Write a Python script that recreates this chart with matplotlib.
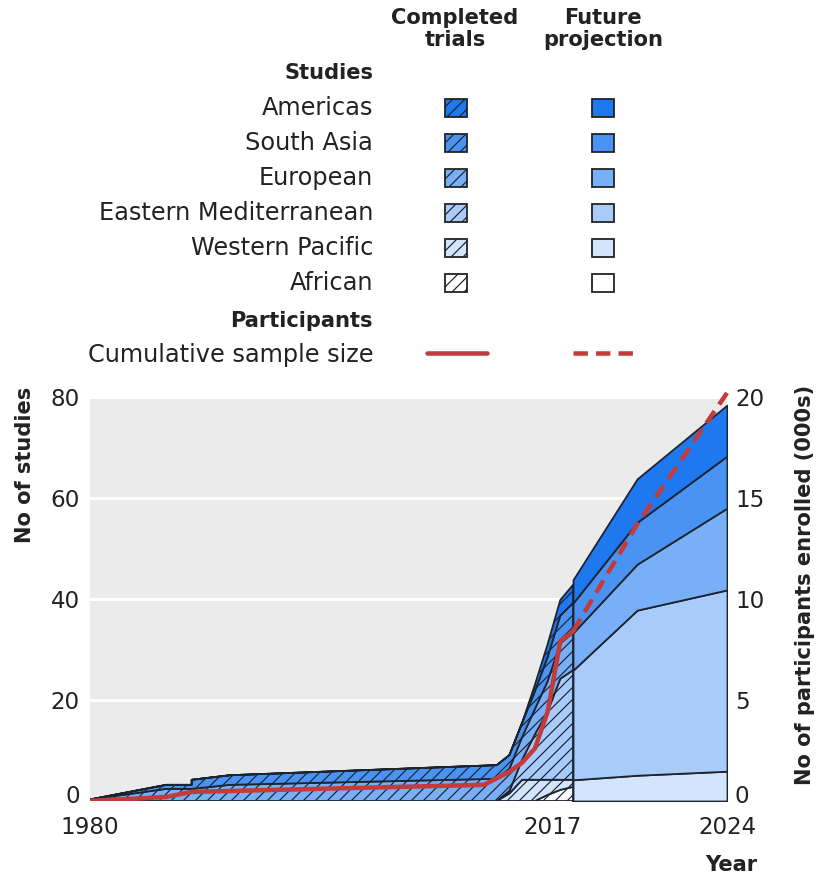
import numpy as np
import matplotlib.pyplot as plt
import matplotlib.transforms as mtransforms
from matplotlib.patches import Rectangle
from matplotlib.lines import Line2D

plt.rcParams['font.family'] = ['DejaVu Sans']
plt.rcParams['hatch.linewidth'] = 1.2

# regions, legend order (top to bottom)
regions = ['Americas', 'South Asia', 'European', 'Eastern Mediterranean',
           'Western Pacific', 'African']
region_colors = ['#1e78f0', '#4b93f2', '#78aff6', '#a9cbfa', '#d3e5fc', '#ffffff']

# completed trials: cumulative no of studies per region
comp_years = [1980, 1986, 1988, 1988, 1991, 2012, 2013, 2014, 2015, 2016, 2017, 2018]
americas_c = [0, 0, 0, 0, 0, 0, 0, 0, 1.3, 2.5, 3.1, 3.6]
sasia_c = [0, 0.8, 0.8, 1.8, 1.9, 2.7, 2.7, 2.8, 3.5, 4.8, 5.5, 5.9]
europe_c = [0.3, 2.4, 2.4, 2.4, 3.2, 4.4, 4.4, 4.5, 5.0, 6.0, 7.0, 7.4]
emed_c = [0, 0, 0, 0, 0, 0, 0.5, 4.0, 9.0, 13.5, 20.0, 21.7]
wpac_c = [0, 0, 0, 0, 0, 0, 1.5, 4.2, 4.2, 3.0, 2.0, 1.4]
african_c = [0, 0, 0, 0, 0, 0, 0, 0, 0, 1.2, 2.2, 2.8]

# future projection
proj_years = [2018, 2020.5, 2024]
americas_p = [4.6, 8.6, 10.1]
sasia_p = [5.9, 8.3, 10.3]
europe_p = [7.4, 9.1, 16.2]
emed_p = [21.7, 32.7, 35.9]
wpac_p = [4.2, 5.1, 5.9]
african_p = [0, 0, 0]

# cumulative participants (000s)
sample_years = [1980, 1986, 1988, 2011, 2013, 2014, 2015, 2016, 2017, 2018]
sample_c = [0, 0.2, 0.45, 0.8, 1.45, 1.9, 2.6, 4.4, 7.9, 8.4]
sample_proj_years = [2018, 2020.5, 2024]
sample_p = [8.4, 13.7, 20.2]

W, H = 824, 884
fig = plt.figure(figsize=(W / 72, H / 72), dpi=72)
ax = fig.add_axes([90 / W, 1 - 801 / H, 637 / W, 404 / H])

# projection years are drawn wider than the past
def fwd(x):
    return np.interp(x, [1980, 2018, 2024], [0, 483, 637])

def inv(x):
    return np.interp(x, [0, 483, 637], [1980, 2018, 2024])

ax.set_xscale('function', functions=(fwd, inv))
ax.set_xlim(1980, 2024)
ax.set_ylim(0, 80)
ax.set_facecolor('#ebebeb')
ax.grid(axis='y', color='white', lw=3)
ax.set_axisbelow(True)
for s in ax.spines.values():
    s.set_visible(False)

edge = '#1c2430'
comp = [african_c, wpac_c, emed_c, europe_c, sasia_c, americas_c]
proj = [african_p, wpac_p, emed_p, europe_p, sasia_p, americas_p]
cols = region_colors[::-1]

base = np.zeros(len(proj_years))
for vals, c in zip(proj, cols):
    top = base + np.array(vals)
    ax.fill_between(proj_years, base, top, facecolor=c, edgecolor=edge, lw=1.8)
    base = top

base = np.zeros(len(comp_years))
for vals, c in zip(comp, cols):
    top = base + np.array(vals)
    ax.fill_between(comp_years, base, top, facecolor=c, edgecolor=edge,
                    hatch='//', lw=1.8)
    base = top

ax.set_xticks([1980, 2017, 2024])
ax.set_yticks([0, 20, 40, 60, 80])
ax.tick_params(length=0, labelsize=23, colors='#222222')
ax.tick_params(axis='x', pad=15)
ax.tick_params(axis='y', pad=10)

ax2 = ax.twinx()
ax2.set_ylim(0, 20)
ax2.set_yticks([0, 5, 10, 15, 20])
ax2.tick_params(length=0, labelsize=23, colors='#222222', pad=8)
for s in ax2.spines.values():
    s.set_visible(False)

# lift the two zero labels a little off the baseline
lift = mtransforms.ScaledTranslation(0, 7 / 72, fig.dpi_scale_trans)
for t in (ax.yaxis.get_major_ticks()[0], ax2.yaxis.get_major_ticks()[0]):
    t.label1.set_transform(t.label1.get_transform() + lift)
    t.label2.set_transform(t.label2.get_transform() + lift)
# the 2017 label sits a touch left of its year
nudge = mtransforms.ScaledTranslation(-8 / 72, 0, fig.dpi_scale_trans)
t17 = ax.xaxis.get_major_ticks()[1]
t17.label1.set_transform(t17.label1.get_transform() + nudge)

red = '#c33b3b'
ax2.plot(sample_years, sample_c, color=red, lw=4.5, solid_capstyle='round')
ax2.plot(sample_proj_years, sample_p, color=red, lw=4.5, ls=(0, (3.2, 1.8)),
         clip_on=False)

txt = dict(color='#222222', size=24)
bld = dict(color='#222222', size=21, weight='bold')
fig.text(25 / W, 1 - 387 / H, 'No of studies', rotation=90, ha='center',
         va='top', **bld)
fig.text(805 / W, 1 - 385 / H, 'No of participants enrolled (000s)', rotation=90,
         ha='center', va='top', **bld)
fig.text(757 / W, 1 - 865 / H, 'Year', ha='right', va='center', **bld)

# legend
fig.text(455 / W, 1 - 29 / H, 'Completed\ntrials', ha='center', va='center',
         linespacing=1.1, **bld)
fig.text(603 / W, 1 - 29 / H, 'Future\nprojection', ha='center', va='center',
         linespacing=1.1, **bld)
fig.text(373 / W, 1 - 73 / H, 'Studies', ha='right', va='center', **bld)
rows = [108, 143, 178, 213, 248, 283]
for name, c, yc in zip(regions, region_colors, rows):
    fig.text(373 / W, 1 - yc / H, name, ha='right', va='center', **txt)
    fig.add_artist(Rectangle((445 / W, 1 - (yc + 9) / H), 22 / W, 18 / H,
                             transform=fig.transFigure, facecolor=c,
                             edgecolor='#222222', lw=1.8, hatch='//'))
    fig.add_artist(Rectangle((592 / W, 1 - (yc + 9) / H), 22 / W, 18 / H,
                             transform=fig.transFigure, facecolor=c,
                             edgecolor='#222222', lw=1.8))
fig.text(373 / W, 1 - 321 / H, 'Participants', ha='right', va='center', **bld)
fig.text(373 / W, 1 - 355 / H, 'Cumulative sample size', ha='right', va='center', **txt)
fig.add_artist(Line2D([427 / W, 487 / W], [1 - 353 / H] * 2, color=red, lw=4.5,
                      transform=fig.transFigure, solid_capstyle='round'))
fig.add_artist(Line2D([573 / W, 633 / W], [1 - 353 / H] * 2, color=red, lw=4.5,
                      ls=(0, (3.2, 1.8)), transform=fig.transFigure))

fig.savefig('out.png', dpi=72)
